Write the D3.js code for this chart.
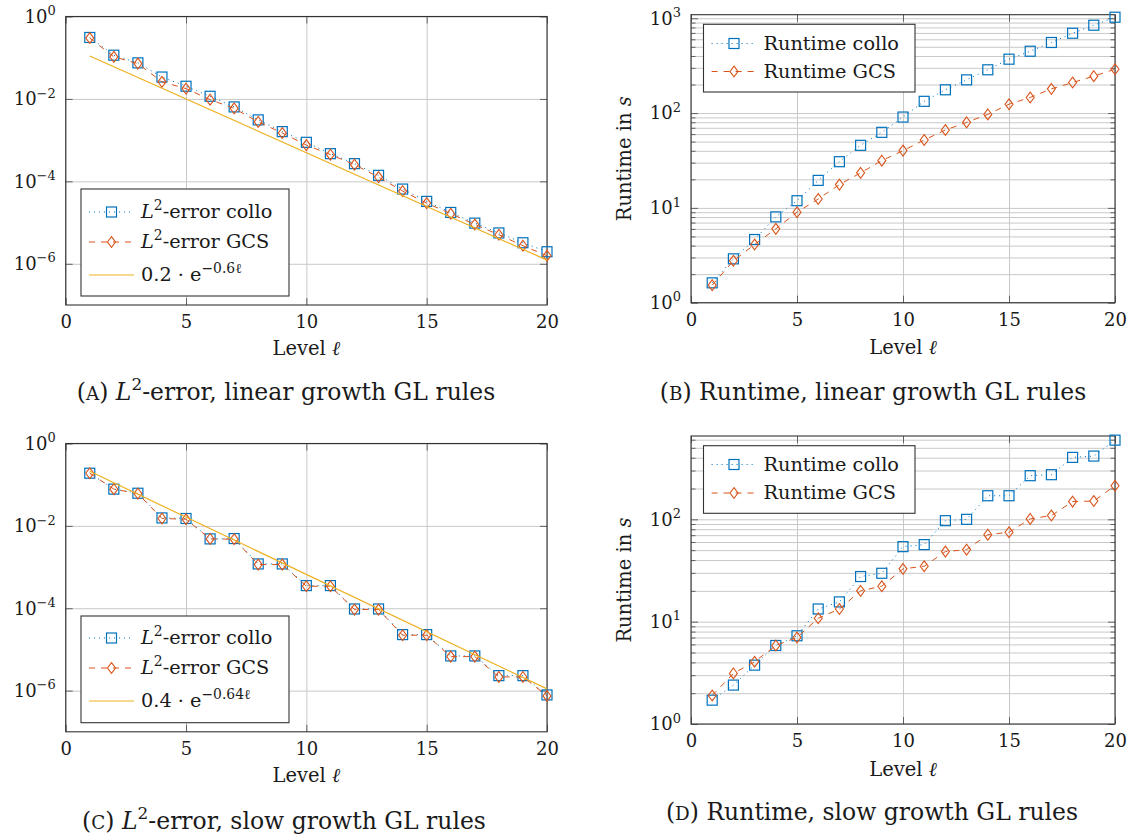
<!DOCTYPE html>
<html><head><meta charset="utf-8">
<script src="https://cdn.jsdelivr.net/npm/d3@7"></script>
<style>
body{margin:0;background:#fff}
svg text{font-family:"DejaVu Serif",serif;fill:#1a1a1a}
</style></head><body>
<svg id="c" width="1133" height="836"></svg>
<script>
// ---------- data ----------
const levels = [1,2,3,4,5,6,7,8,9,10,11,12,13,14,15,16,17,18,19,20];
const xTicks = [0,5,10,15,20];
const yTickExpErr = [0,-2,-4,-6];
const yTickExpRunB = [0,1,2,3];
const yTickExpRunD = [0,1,2];

// (A) L2-error, linear growth
const errColloA = [0.31,0.115,0.075,0.034,0.0203,0.0116,0.0064,0.0031,0.00161,8.85e-4,4.7e-4,2.69e-4,1.40e-4,6.5e-5,3.26e-5,1.76e-5,9.7e-6,5.6e-6,3.24e-6,1.96e-6];
const errGcsA   = [0.30,0.105,0.072,0.026,0.0178,0.0096,0.0059,0.00277,0.00149,7.6e-4,4.45e-4,2.54e-4,1.27e-4,5.8e-5,2.97e-5,1.64e-5,9.0e-6,5.06e-6,2.75e-6,1.57e-6];
const fitLevels = [1,20];
const fitA = [0.11,1.23e-6];

// (B) runtime, linear growth
const runColloB = [1.62,2.90,4.64,8.04,11.9,19.5,30.7,45.7,62.6,90.8,133,176,224,286,370,449,555,695,844,1025];
const runGcsB   = [1.53,2.77,4.11,6.01,9.0,12.4,17.6,23.4,31.5,40.2,52,66.3,79.8,96.8,124,146,180,210,245,290];

// (C) L2-error, slow growth
const errColloC = [0.19,0.078,0.062,0.0156,0.0151,0.00483,0.00492,0.00119,0.00119,3.55e-4,3.55e-4,9.6e-5,9.6e-5,2.29e-5,2.29e-5,6.95e-6,6.95e-6,2.31e-6,2.31e-6,7.85e-7];
const errGcsC   = [0.19,0.078,0.0607,0.0151,0.0145,0.00483,0.00474,0.00115,0.00115,3.42e-4,3.42e-4,9.29e-5,9.29e-5,2.21e-5,2.21e-5,6.7e-6,6.7e-6,2.15e-6,2.15e-6,7.45e-7];
const fitC = [0.211,1.1e-6];

// (D) runtime, slow growth
const runColloD = [1.71,2.40,3.76,5.85,7.28,13.3,15.6,27.6,29.7,54.1,56.6,97,100,170,170,267,273,403,415,594];
const runGcsD   = [1.90,3.12,4.06,5.85,7.01,10.8,13.3,20.0,22.2,32.8,34.8,48.4,50.6,70.8,74.7,101,109,149,151,213];

// ---------- styles ----------
const C_COLLO = "#0072BD", C_GCS = "#D95319", C_FIT = "#EDB120";
const FS_TICK = 18, FS_LEG = 19.3, FS_LAB = 19.5, FS_CAP = 23.5;

const svg = d3.select('#c');

function rich(sel, parts, fs){
  let raised = false;
  parts.forEach(p=>{
    const ts = sel.append('tspan').text(p.t);
    if (p.it) ts.attr('font-style','italic');
    if (p.sc) ts.attr('font-size', fs*0.78);
    if (p.sup){ ts.attr('font-size', fs*0.72); if(!raised){ts.attr('dy', -fs*0.42); raised=true;} }
    else if (raised){ ts.attr('dy', fs*0.42); raised=false; }
  });
}

function marker(g, type, cx, cy){
  if (type==='square'){
    g.append('rect').attr('x',cx-5).attr('y',cy-5).attr('width',10).attr('height',10)
      .attr('fill','none').attr('stroke',C_COLLO).attr('stroke-width',1.2);
  } else {
    g.append('path').attr('d',`M${cx},${cy-5.4}L${cx+4},${cy}L${cx},${cy+5.4}L${cx-4},${cy}Z`)
      .attr('fill','none').attr('stroke',C_GCS).attr('stroke-width',1.1);
  }
}

const SER = {
  collo:{color:C_COLLO, dash:"1,4", width:1, mark:'square'},
  gcs:{color:C_GCS, dash:"6,6", width:1, mark:'diamond'},
  fit:{color:C_FIT, dash:null, width:1.2, mark:null}
};

function drawPanel(p){
  const g = svg.append('g');
  const x = d3.scaleLinear().domain([0,20]).range([p.left,p.right]);
  const y = d3.scaleLog().domain(p.yDomain).range([p.bottom,p.top]);
  const W = p.right-p.left, H = p.bottom-p.top;
  const majors = p.yTickExp.map(e=>Math.pow(10,e));
  let minors = [];
  if (p.minor){
    for (let k=0;k<4;k++) for (let m=2;m<=9;m++){ const v=m*Math.pow(10,k); if (v<p.yDomain[1]) minors.push(v); }
  }
  // grid
  const gx = g.append('g').attr('transform',`translate(0,${p.bottom})`)
    .call(d3.axisBottom(x).tickValues(xTicks).tickSize(-H).tickFormat(''));
  const gy = g.append('g').attr('transform',`translate(${p.left},0)`)
    .call(d3.axisLeft(y).tickValues(majors.concat(minors)).tickSize(-W).tickFormat(''));
  [gx,gy].forEach(a=>{a.select('.domain').remove(); a.selectAll('line').attr('stroke','#c8c8c8').attr('stroke-width',1);});
  // inner tick marks
  const tickSets = [
    [d3.axisBottom(x).tickValues(xTicks), `translate(0,${p.bottom})`, 7],
    [d3.axisTop(x).tickValues(xTicks), `translate(0,${p.top})`, 7],
    [d3.axisLeft(y).tickValues(majors), `translate(${p.left},0)`, 7],
    [d3.axisRight(y).tickValues(majors), `translate(${p.right},0)`, 7],
  ];
  if (p.minor){
    tickSets.push([d3.axisLeft(y).tickValues(minors), `translate(${p.left},0)`, 4.5]);
    tickSets.push([d3.axisRight(y).tickValues(minors), `translate(${p.right},0)`, 4.5]);
  }
  tickSets.forEach(([ax,tr,len])=>{
    const a = g.append('g').attr('transform',tr).call(ax.tickSize(-len).tickFormat(''));
    a.select('.domain').remove();
    a.selectAll('line').attr('stroke','#555').attr('stroke-width',0.9);
  });
  // frame
  g.append('rect').attr('x',p.left).attr('y',p.top).attr('width',W).attr('height',H)
    .attr('fill','none').attr('stroke','#333').attr('stroke-width',1.1);
  // tick labels
  const lx = g.append('g').attr('transform',`translate(0,${p.bottom})`)
    .call(d3.axisBottom(x).tickValues(xTicks).tickSize(0).tickPadding(10.5));
  lx.select('.domain').remove();
  lx.selectAll('text').attr('font-size',FS_TICK).attr('font-family','"DejaVu Serif",serif').attr('fill','#1a1a1a');
  const ly = g.append('g').attr('transform',`translate(${p.left},0)`)
    .call(d3.axisLeft(y).tickValues(majors).tickSize(0).tickPadding(10));
  ly.select('.domain').remove();
  ly.selectAll('text').attr('font-size',FS_TICK).attr('font-family','"DejaVu Serif",serif').attr('fill','#1a1a1a')
    .each(function(d){
      const t = d3.select(this); t.text(null);
      const e = Math.round(Math.log10(d));
      rich(t,[{t:'10'},{t:(e<0?'\u2212'+(-e):String(e)),sup:true}],FS_TICK);
    });
  // axis labels
  const xl = g.append('text').attr('x',(p.left+p.right)/2).attr('y',p.xlabY)
    .attr('text-anchor','middle').attr('font-size',FS_LAB);
  rich(xl,[{t:'Level '},{t:'\u2113',it:true}],FS_LAB);
  if (p.ylabel){
    const yl = g.append('text').attr('transform',`translate(${p.ylabX},${(p.top+p.bottom)/2}) rotate(-90)`)
      .attr('text-anchor','middle').attr('font-size',FS_LAB);
    rich(yl,p.ylabel,FS_LAB);
  }
  // series
  const line = d3.line().x(d=>x(d[0])).y(d=>y(d[1]));
  p.series.forEach(s=>{
    const st = SER[s.kind];
    const pts = s.lv.map((l,i)=>[l,s.vals[i]]);
    const path = g.append('path').attr('d',line(pts)).attr('fill','none')
      .attr('stroke',st.color).attr('stroke-width',st.width);
    if (st.dash) path.attr('stroke-dasharray',st.dash);
    if (st.mark){ const mg = g.append('g'); pts.forEach(d=>marker(mg,st.mark,x(d[0]),y(d[1]))); }
  });
  // legend
  const L = p.legend;
  g.append('rect').attr('x',L.x0).attr('y',L.y0).attr('width',L.x1-L.x0).attr('height',L.y1-L.y0)
    .attr('fill','#fff').attr('stroke','#333').attr('stroke-width',1.1);
  L.items.forEach((it,i)=>{
    const st = SER[it.kind];
    const base = L.rows[i], cy = base-6;
    const ln = g.append('line').attr('x1',L.sx0).attr('x2',L.sx1).attr('y1',cy).attr('y2',cy)
      .attr('stroke',st.color).attr('stroke-width',st.width);
    if (st.dash) ln.attr('stroke-dasharray',st.dash);
    if (st.mark) marker(g,st.mark,(L.sx0+L.sx1)/2,cy);
    const t = g.append('text').attr('x',L.tx).attr('y',base).attr('font-size',FS_LEG);
    rich(t,it.label,FS_LEG);
  });
  // caption
  const cap = g.append('text').attr('x',p.capX).attr('y',p.capY).attr('text-anchor','middle').attr('font-size',FS_CAP);
  rich(cap,p.caption,FS_CAP);
}

const L2 = [{t:'L',it:true},{t:'2',sup:true}];
const errLegend = (fitParts)=>[
  {kind:'collo', label:L2.concat([{t:'-error collo'}])},
  {kind:'gcs', label:L2.concat([{t:'-error GCS'}])},
  {kind:'fit', label:fitParts}
];
const runLegend = [
  {kind:'collo', label:[{t:'Runtime collo'}]},
  {kind:'gcs', label:[{t:'Runtime GCS'}]}
];
const ylabRun = [{t:'Runtime in '},{t:'s',it:true}];

drawPanel({
  left:65.7,right:547,top:16.5,bottom:305,yDomain:[1e-7,1],yTickExp:yTickExpErr,minor:false,
  series:[{kind:'collo',lv:levels,vals:errColloA},{kind:'gcs',lv:levels,vals:errGcsA},{kind:'fit',lv:fitLevels,vals:fitA}],
  legend:{x0:81,x1:289,y0:189,y1:296,rows:[218,248,281],sx0:89,sx1:134,tx:141,
    items:errLegend([{t:'0.2 \u00b7 e'},{t:'\u22120.6\u2113',sup:true}])},
  xlabY:355, caption:[{t:'('},{t:'A',sc:true},{t:') '},{t:'L',it:true},{t:'2',sup:true},{t:'-error, linear growth GL rules'}],
  capX:286, capY:400
});
drawPanel({
  left:691,right:1115,top:14.7,bottom:302.7,yDomain:[1,1090],yTickExp:yTickExpRunB,minor:true,
  series:[{kind:'collo',lv:levels,vals:runColloB},{kind:'gcs',lv:levels,vals:runGcsB}],
  legend:{x0:703.5,x1:915,y0:24.3,y1:92,rows:[49.5,77.5],sx0:711.6,sx1:756.4,tx:763.5,items:runLegend},
  xlabY:354, ylabel:ylabRun, ylabX:631,
  caption:[{t:'('},{t:'B',sc:true},{t:') Runtime, linear growth GL rules'}], capX:873, capY:400
});
drawPanel({
  left:65.7,right:547,top:443.5,bottom:731.8,yDomain:[1e-7,1],yTickExp:yTickExpErr,minor:false,
  series:[{kind:'collo',lv:levels,vals:errColloC},{kind:'gcs',lv:levels,vals:errGcsC},{kind:'fit',lv:fitLevels,vals:fitC}],
  legend:{x0:81,x1:289,y0:616,y1:722.7,rows:[644,674,707],sx0:89,sx1:134,tx:141,
    items:errLegend([{t:'0.4 \u00b7 e'},{t:'\u22120.64\u2113',sup:true}])},
  xlabY:782, caption:[{t:'('},{t:'C',sc:true},{t:') '},{t:'L',it:true},{t:'2',sup:true},{t:'-error, slow growth GL rules'}],
  capX:284, capY:829
});
drawPanel({
  left:691,right:1115,top:436,bottom:724,yDomain:[1,652],yTickExp:yTickExpRunD,minor:true,
  series:[{kind:'collo',lv:levels,vals:runColloD},{kind:'gcs',lv:levels,vals:runGcsD}],
  legend:{x0:703.5,x1:915,y0:445.7,y1:513.3,rows:[470.5,499],sx0:711.6,sx1:756.4,tx:763.5,items:runLegend},
  xlabY:776, ylabel:ylabRun, ylabX:631,
  caption:[{t:'('},{t:'D',sc:true},{t:') Runtime, slow growth GL rules'}], capX:872, capY:820
});
</script>
</body></html>
